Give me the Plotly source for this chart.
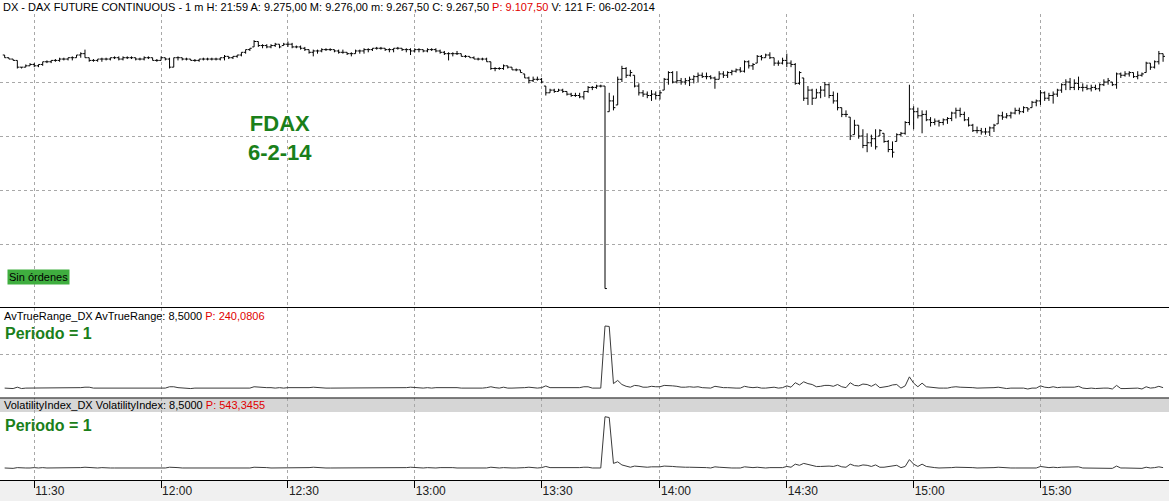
import plotly.graph_objects as go

# ---------------- data (1-minute FDAX bars, 11:23 .. 15:55) ----------------
bar_open = [
 9270, 9269, 9268.5, 9268, 9265.5, 9265.5, 9266, 9266.5, 9266, 9266.5,
 9267.5, 9267.5, 9268, 9268, 9268.5, 9268.5, 9269, 9269, 9270, 9270.5,
 9269, 9268, 9268, 9268.5, 9268.5, 9268.5, 9269, 9269, 9268.5, 9269,
 9269, 9269, 9268.5, 9268.5, 9269, 9269, 9268, 9268, 9269, 9268.5,
 9265.5, 9269, 9269, 9268.5, 9268.5, 9268, 9268, 9268.5, 9268.5, 9268.5,
 9268.5, 9268.5, 9269, 9269.5, 9269, 9269.5, 9270, 9271, 9272, 9273,
 9275, 9273.5, 9273.5, 9273, 9273.5, 9274, 9273.5, 9274, 9274, 9273,
 9273, 9272.5, 9272, 9271, 9271.5, 9271.5, 9272, 9272, 9272, 9271.5,
 9271, 9271, 9270.5, 9270.5, 9271.5, 9271.5, 9272, 9272, 9272.5, 9272.5,
 9272.5, 9272, 9272, 9272.5, 9272.5, 9272, 9272, 9271.5, 9272, 9272,
 9271.5, 9272, 9272, 9271.5, 9271, 9270.5, 9270.5, 9270.5, 9270.5, 9269.5,
 9269.5, 9269, 9268.5, 9268.5, 9268.5, 9267.5, 9265, 9265, 9265, 9266,
 9265.5, 9264.5, 9264.5, 9263, 9261.5, 9260.5, 9261, 9261, 9258.5, 9256,
 9257, 9256.5, 9257, 9256.5, 9255.5, 9255, 9255, 9254.5, 9256.5, 9258,
 9258, 9258.5, 9258.5, 9249, 9253, 9251.5, 9261, 9265, 9262.5, 9262.5,
 9258.5, 9256, 9255.5, 9255, 9255.5, 9255, 9257, 9261, 9263.5, 9260,
 9260.5, 9260, 9260.5, 9261, 9262, 9262.5, 9262, 9262, 9261.5, 9261,
 9263, 9262.5, 9263.5, 9264, 9264.5, 9264, 9267.5, 9266, 9267, 9269.5,
 9269, 9270, 9269, 9267, 9267, 9268, 9267, 9266.5, 9259.5, 9261.5,
 9254, 9257, 9254, 9256, 9257, 9259, 9255, 9253, 9250.5, 9248,
 9247, 9240.5, 9244, 9240, 9236.5, 9237.5, 9239, 9240, 9241, 9238,
 9235, 9238, 9240.5, 9241, 9245, 9250, 9249, 9247.5, 9248, 9246,
 9245, 9245.5, 9245, 9246, 9246.5, 9248.5, 9249.5, 9248, 9246, 9244,
 9242, 9242, 9241.5, 9241.5, 9243, 9244.5, 9247.5, 9247, 9247.5, 9248.5,
 9249.5, 9249, 9250.5, 9250.5, 9252.5, 9253, 9256, 9254, 9255, 9255.5,
 9257, 9259, 9260, 9258, 9259.5, 9258, 9258, 9257.5, 9258, 9257.5,
 9259, 9260, 9260, 9259, 9263, 9262.5, 9263, 9263.5, 9262, 9262.5,
 9263.5, 9267, 9265.5, 9267.5, 9270.5]

bar_high = [
 9270, 9269, 9268.5, 9268, 9265.5, 9266.5, 9267, 9267, 9266.5, 9267.5,
 9268, 9268, 9268.5, 9269, 9269, 9269, 9269.5, 9270, 9271, 9272,
 9269, 9268.5, 9268.5, 9269, 9269, 9269, 9269.5, 9269.5, 9269.5, 9269.5,
 9269.5, 9269, 9269, 9269.5, 9269.5, 9269, 9268.5, 9269.5, 9269, 9269,
 9269, 9269.5, 9269, 9269, 9268.5, 9268.5, 9268.5, 9269, 9269, 9269,
 9269, 9269, 9270, 9269.5, 9269.5, 9270, 9271, 9272, 9272.5, 9275.5,
 9275, 9274, 9274, 9274, 9274.5, 9274, 9274.5, 9275, 9274.5, 9273.5,
 9273.5, 9273, 9272, 9272, 9272, 9272.5, 9272.5, 9272.5, 9272, 9272,
 9272, 9271, 9271, 9272, 9272, 9272.5, 9272.5, 9272.5, 9273, 9273,
 9272.5, 9272.5, 9272.5, 9273, 9272.5, 9272.5, 9272.5, 9272.5, 9272.5, 9272,
 9272.5, 9272.5, 9272.5, 9272, 9271.5, 9271, 9271, 9271.5, 9270.5, 9270,
 9269.5, 9269.5, 9269, 9269, 9269, 9267.5, 9265.5, 9265.5, 9266.5, 9266,
 9265.5, 9265, 9264.5, 9263, 9262, 9262, 9262, 9261.5, 9258.5, 9257.5,
 9257.5, 9257.5, 9257.5, 9256.5, 9256, 9256, 9256, 9256.5, 9258.5, 9258.5,
 9259, 9259, 9258.5, 9256, 9255, 9262, 9266, 9265.5, 9264.5, 9262.5,
 9259.5, 9257, 9256.5, 9257, 9256.5, 9257, 9261.5, 9264, 9264, 9264,
 9261.5, 9261.5, 9262, 9262.5, 9263.5, 9263.5, 9263.5, 9262.5, 9262, 9264,
 9264, 9264, 9264.5, 9265, 9265.5, 9268, 9268, 9267, 9270, 9270,
 9270.5, 9271, 9269, 9268, 9269, 9270.5, 9268, 9267, 9264, 9261.5,
 9258.5, 9257.5, 9257.5, 9258.5, 9260, 9259.5, 9256.5, 9256, 9250.5, 9249.5,
 9247, 9246, 9244, 9242.5, 9241, 9240.5, 9242.5, 9242.5, 9241, 9238.5,
 9238, 9241, 9241.5, 9245.5, 9259, 9251, 9250.5, 9249.5, 9249.5, 9247,
 9246.5, 9246, 9246.5, 9247, 9249, 9250.5, 9250.5, 9249, 9247, 9244.5,
 9243.5, 9243, 9243, 9243.5, 9244.5, 9248, 9249, 9248.5, 9249, 9250.5,
 9250.5, 9251, 9250.5, 9253, 9253.5, 9257, 9256.5, 9256, 9256.5, 9257.5,
 9259.5, 9261, 9261.5, 9261, 9262, 9259.5, 9259, 9259, 9259, 9259.5,
 9261, 9261.5, 9260, 9263.5, 9263.5, 9264, 9264, 9263.5, 9264, 9263.5,
 9267.5, 9267, 9268, 9271.5, 9270.5]

bar_low = [
 9269, 9268.5, 9268, 9265, 9265, 9265.5, 9266, 9265.5, 9265.5, 9266,
 9267, 9267, 9267.5, 9267.5, 9268, 9268, 9268, 9269, 9269, 9269,
 9267.5, 9267.5, 9267.5, 9267.5, 9268, 9268, 9268.5, 9268, 9268, 9268.5,
 9268.5, 9268, 9268, 9268, 9268.5, 9268, 9267.5, 9268, 9268, 9265,
 9265.5, 9268, 9268, 9268, 9268, 9267.5, 9267.5, 9268, 9268, 9268,
 9268, 9268, 9268, 9268.5, 9268.5, 9269, 9269.5, 9270.5, 9271.5, 9273,
 9273, 9272.5, 9272.5, 9272.5, 9273, 9272.5, 9273.5, 9273, 9272.5, 9272.5,
 9272, 9271.5, 9270.5, 9269.5, 9270.5, 9271, 9271.5, 9271.5, 9271, 9270.5,
 9270.5, 9270, 9269.5, 9270.5, 9270.5, 9270.5, 9271, 9271.5, 9272, 9272,
 9271.5, 9271, 9271, 9272, 9271.5, 9271, 9270, 9271, 9271, 9271,
 9271, 9271.5, 9271, 9270.5, 9270, 9268, 9269.5, 9270, 9269.5, 9269,
 9269, 9268.5, 9268, 9268, 9267.5, 9264.5, 9264, 9264.5, 9264.5, 9265,
 9264.5, 9264, 9263.5, 9261.5, 9259.5, 9260, 9260.5, 9259.5, 9255, 9256,
 9256, 9256.5, 9256, 9255, 9254.5, 9254.5, 9254, 9253.5, 9256, 9257,
 9257.5, 9258, 9183.5, 9249, 9249.5, 9251.5, 9260, 9261.5, 9262, 9258,
 9255, 9254.5, 9254, 9253, 9253.5, 9253.5, 9257, 9259, 9259.5, 9259.5,
 9259, 9259, 9258.5, 9259.5, 9260, 9261.5, 9261, 9261, 9257.5, 9261,
 9261.5, 9261.5, 9262.5, 9263.5, 9263.5, 9263.5, 9265, 9264.5, 9267, 9268,
 9269, 9268.5, 9266, 9266, 9266.5, 9265.5, 9265.5, 9259, 9259, 9253,
 9251.5, 9251.5, 9254, 9254, 9254.5, 9254, 9252, 9249.5, 9247, 9247,
 9238.5, 9240.5, 9239, 9235.5, 9234, 9236, 9235, 9240, 9237.5, 9234,
 9232, 9238, 9240, 9240.5, 9244, 9242.5, 9246.5, 9241, 9245.5, 9243.5,
 9244, 9243.5, 9244, 9244.5, 9245.5, 9246.5, 9247, 9245.5, 9243.5, 9241.5,
 9241, 9240.5, 9240.5, 9240, 9241.5, 9244.5, 9246, 9246.5, 9246.5, 9248,
 9248, 9248.5, 9249, 9250.5, 9251, 9251.5, 9253, 9253, 9252, 9254.5,
 9256, 9257, 9257, 9257, 9257, 9256.5, 9257, 9256.5, 9257, 9256.5,
 9258.5, 9259, 9258.5, 9257.5, 9261.5, 9262, 9262, 9261.5, 9261, 9262,
 9263.5, 9264.5, 9265, 9266.5, 9267.5]

bar_close = [
 9269, 9268.5, 9268, 9265.5, 9265.5, 9266, 9266.5, 9266, 9266.5, 9267.5,
 9267.5, 9268, 9268, 9268.5, 9268.5, 9269, 9269, 9270, 9270.5, 9269,
 9268, 9268, 9268.5, 9268.5, 9268.5, 9269, 9269, 9268.5, 9269, 9269,
 9269, 9268.5, 9268.5, 9269, 9269, 9268, 9268, 9269, 9268.5, 9265.5,
 9269, 9269, 9268.5, 9268.5, 9268, 9268, 9268.5, 9268.5, 9268.5, 9268.5,
 9268.5, 9269, 9269.5, 9269, 9269.5, 9270, 9271, 9272, 9272.5, 9275,
 9273.5, 9273.5, 9273, 9273.5, 9274, 9273, 9274, 9274, 9273, 9273,
 9272.5, 9272, 9271, 9271.5, 9271.5, 9272, 9272, 9272, 9271.5, 9271,
 9271, 9270.5, 9270.5, 9271.5, 9271.5, 9272, 9272, 9272.5, 9272.5, 9272.5,
 9272, 9272, 9272.5, 9272.5, 9272, 9272, 9271.5, 9272, 9272, 9271.5,
 9272, 9272, 9271.5, 9271, 9270.5, 9270.5, 9270.5, 9270.5, 9269.5, 9269.5,
 9269, 9268.5, 9268.5, 9268.5, 9267.5, 9265, 9265, 9265, 9266, 9265.5,
 9264.5, 9264.5, 9263.5, 9261.5, 9260.5, 9261, 9261, 9260, 9256, 9257,
 9256.5, 9257, 9256.5, 9255.5, 9255, 9255, 9254.5, 9256.5, 9258, 9258,
 9258.5, 9258.5, 9183.5, 9253, 9250.5, 9261, 9265, 9262.5, 9263.5, 9258.5,
 9256, 9255.5, 9255, 9255.5, 9255, 9256, 9261, 9263.5, 9260, 9260.5,
 9260, 9260.5, 9261, 9262, 9262.5, 9262, 9262, 9261.5, 9261, 9263,
 9262.5, 9263.5, 9264, 9264.5, 9264, 9267.5, 9266, 9266.5, 9269.5, 9269,
 9270, 9269, 9267, 9267, 9268, 9267, 9266.5, 9259.5, 9263.5, 9254,
 9257, 9254, 9256, 9257, 9259, 9255, 9253, 9250.5, 9248, 9248,
 9240, 9244, 9240, 9236.5, 9237.5, 9239, 9236, 9242, 9238, 9235,
 9234, 9240.5, 9241, 9245, 9250, 9249, 9247.5, 9248, 9246, 9245,
 9245.5, 9245, 9246, 9246.5, 9248.5, 9249.5, 9248, 9246, 9244, 9242,
 9242, 9241.5, 9241.5, 9243, 9244, 9247.5, 9247, 9247.5, 9248.5, 9249.5,
 9249, 9250.5, 9250, 9252.5, 9253, 9256, 9254, 9255, 9255.5, 9257,
 9259, 9260, 9258, 9259.5, 9258, 9258, 9257.5, 9258, 9257.5, 9259,
 9260, 9260.5, 9259, 9263, 9262.5, 9263, 9263.5, 9262, 9262.5, 9263,
 9267, 9265.5, 9267.5, 9270.5, 9269.5]

atr_values = [
 3, 2.5, 2.5, 4, 2.5, 3, 3, 3.5, 3, 3.5,
 3, 3, 3, 3.5, 3, 3, 3.5, 3, 3.5, 4,
 4, 3, 3, 3.5, 3, 3, 3, 3.5, 3.5, 3,
 3, 3, 3, 3.5, 3, 3, 3, 3.5, 3, 4.5,
 4.5, 3.5, 3, 3, 2.5, 3, 3, 3, 3, 3,
 3, 3, 3.5, 3, 3, 3, 3.5, 3.5, 3, 4.5,
 4, 3.5, 3.5, 3.5, 3, 3.5, 3, 3.5, 3.5, 3,
 3.5, 3.5, 3.5, 4, 3.5, 3.5, 3, 3, 3, 3.5,
 3.5, 3, 3.5, 3.5, 3.5, 3.5, 3.5, 3, 3, 3,
 3, 3.5, 3.5, 3, 3, 3.5, 4, 3.5, 3.5, 3,
 3.5, 3, 3.5, 3.5, 3.5, 4, 3.5, 3.5, 3, 3,
 2.5, 3, 3, 3, 3.5, 4.5, 3.5, 3, 4, 3,
 3, 3, 3, 3.5, 4, 3.5, 3, 3.5, 5.5, 3.5,
 3.5, 3, 3.5, 3.5, 3.5, 3.5, 3.5, 4.5, 4.5, 3,
 3, 3, 72, 71.5, 8, 11.5, 7, 5, 4, 6,
 5.5, 4, 4, 5, 4.5, 4.5, 6, 6, 5.5, 5,
 4, 4, 4.5, 4, 4.5, 3.5, 3.5, 3, 5, 4,
 3.5, 3.5, 3, 3, 3, 5, 4, 3.5, 4, 3,
 3, 3.5, 4, 3, 3.5, 5.5, 4, 9, 6.5, 10,
 8, 7, 4.5, 5, 6, 6, 5, 7, 4.5, 3.5,
 9, 6, 5.5, 7.5, 7, 5, 7.5, 3.5, 4, 5,
 6.5, 7, 3, 5.5, 15.5, 8.5, 4.5, 8.5, 4.5, 4,
 3, 3, 3, 3, 4, 4.5, 4, 4, 4, 3.5,
 3, 3, 3, 3.5, 3.5, 4, 3.5, 2.5, 3, 3,
 2.5, 3, 2, 3, 3, 5.5, 4, 3.5, 4.5, 3.5,
 4, 4, 4.5, 4, 5, 3, 2.5, 3, 2.5, 3,
 3, 3, 2, 6, 2.5, 2.5, 2.5, 2.5, 3, 2,
 4.5, 3, 3.5, 5, 3.5]

vi_values = [
 3, 3, 2.5, 3.5, 3, 3, 3, 3.5, 3, 3.5,
 3, 3, 3, 3, 3, 3, 3.5, 3, 3.5, 4,
 3.5, 3, 3, 3.5, 3, 3, 3, 3, 3.5, 3,
 3, 3, 3, 3, 3, 3, 3, 3.5, 3, 4,
 4, 3.5, 3, 3, 3, 3, 3, 3, 3, 3,
 3, 3, 3.5, 3, 3, 3, 3.5, 3.5, 3, 4,
 4, 3.5, 3.5, 3, 3, 3.5, 3, 3.5, 3.5, 3,
 3.5, 3.5, 3.5, 4, 3.5, 3, 3, 3, 3, 3.5,
 3.5, 3, 3.5, 3.5, 3, 3.5, 3.5, 3, 3, 3,
 3, 3, 3.5, 3, 3, 3.5, 4, 3.5, 3, 3,
 3.5, 3, 3, 3.5, 3.5, 4, 3.5, 3, 3, 3,
 3, 3, 3, 3, 3, 4, 3.5, 3, 3.5, 3,
 3, 3, 3, 3.5, 4, 3.5, 3, 3.5, 5, 3.5,
 3.5, 3, 3, 3.5, 3.5, 3.5, 3.5, 4, 4, 3,
 3, 3, 70, 69, 9, 11, 7, 5, 4, 5.5,
 5, 4, 4, 4.5, 4.5, 4.5, 5.5, 5.5, 5, 4.5,
 4, 4, 4, 4, 4, 3.5, 3.5, 3, 4.5, 4,
 3.5, 3.5, 3, 3, 3, 4.5, 4, 3.5, 4, 3,
 3, 3.5, 3.5, 3, 3.5, 5, 4, 8, 6.5, 9,
 8, 6.5, 5, 5, 5.5, 5.5, 5, 6.5, 4.5, 4,
 8, 6, 5.5, 7, 6.5, 5, 7, 4, 4, 5,
 6, 6.5, 3.5, 5, 14, 8, 5, 8, 5, 4,
 3.5, 3, 3, 3, 3.5, 4, 4, 4, 4, 3.5,
 3, 3, 3, 3.5, 3.5, 4, 3.5, 3, 3, 3,
 3, 3, 2.5, 3, 3, 5, 4, 3.5, 4, 3.5,
 4, 4, 4, 4, 4.5, 3, 3, 3, 3, 3,
 3, 3, 2.5, 5.5, 3, 3, 3, 3, 3, 2.5,
 4, 3, 3.5, 4.5, 3.5]

tick_index = [7, 37, 67, 97, 127, 155, 185, 215, 245]
tick_labels = ["11:30", "12:00", "12:30", "13:00", "13:30", "14:00", "14:30", "15:00", "15:30"]
price_grid = [9200, 9220, 9240, 9260]
atr_grid = [40]

# ---------------- figure ----------------
W, H = 1169, 501
PLOT_H = 480.0  # plot area height (bottom margin holds the time axis)


def py(pix):
    """pixel row (from top) -> paper y"""
    return (PLOT_H - pix) / PLOT_H


n = min(len(bar_open), len(bar_high), len(bar_low), len(bar_close))
xs = list(range(n))

GREEN = "#1a7f1a"
GRID = "#a8a8a8"
FONT = "Liberation Sans, Arial, sans-serif"

fig = go.Figure()
fig.add_trace(go.Ohlc(
    x=xs, open=bar_open[:n], high=bar_high[:n], low=bar_low[:n], close=bar_close[:n],
    increasing=dict(line=dict(color="black", width=1)),
    decreasing=dict(line=dict(color="black", width=1)),
    tickwidth=0.45, xaxis="x", yaxis="y", hoverinfo="skip"))
fig.add_trace(go.Scatter(
    x=list(range(len(atr_values))), y=atr_values, mode="lines",
    line=dict(color="#3a3a3a", width=1), xaxis="x2", yaxis="y2", hoverinfo="skip"))
fig.add_trace(go.Scatter(
    x=list(range(len(vi_values))), y=vi_values, mode="lines",
    line=dict(color="#3a3a3a", width=1), xaxis="x3", yaxis="y3", hoverinfo="skip"))

xr = [-1.1, 275.4]
common_x = dict(range=xr, tickmode="array", tickvals=tick_index, showgrid=True,
                gridcolor=GRID, griddash="3px,3px", gridwidth=1, zeroline=False,
                fixedrange=True)

fig.update_layout(
    width=W, height=H,
    margin=dict(l=0, r=0, t=0, b=21),
    paper_bgcolor="white", plot_bgcolor="white",
    showlegend=False,
    font=dict(family=FONT, size=11, color="black"),
    xaxis=dict(**common_x, anchor="y", showticklabels=False, ticks="",
               rangeslider=dict(visible=False)),
    xaxis2=dict(**common_x, anchor="y2", matches="x", showticklabels=False, ticks=""),
    xaxis3=dict(**common_x, anchor="y3", matches="x", ticktext=tick_labels,
                showticklabels=True, ticks="outside", ticklen=7, tickcolor="black",
                tickwidth=1, showline=True, linecolor="black", linewidth=1,
                ticklabelposition="outside right", automargin=False,
                tickfont=dict(family=FONT, size=12, color="#202020")),
    yaxis=dict(domain=[py(307), py(14)], range=[9176.67, 9285.19], tickmode="array",
               tickvals=price_grid, showticklabels=False, showgrid=True, gridcolor=GRID,
               griddash="3px,3px", zeroline=False, fixedrange=True),
    yaxis2=dict(domain=[py(398), py(308)], range=[-8, 92], tickmode="array",
                tickvals=atr_grid, showticklabels=False, showgrid=True, gridcolor=GRID,
                griddash="3px,3px", zeroline=False, fixedrange=True),
    yaxis3=dict(domain=[0, py(398)], range=[-12.7, 94.5], showticklabels=False,
                showgrid=False, zeroline=False, fixedrange=True),
)

shapes = [
    # grey time-axis strip
    dict(type="rect", xref="paper", yref="paper", x0=0, x1=1, y0=-21 / PLOT_H, y1=0,
         fillcolor="#f0f0f0", line=dict(width=0), layer="below"),
    # grey header band of the volatility panel
    dict(type="rect", xref="paper", yref="paper", x0=0, x1=1, y0=py(412), y1=py(398.5),
         fillcolor="#d6d6d6", line=dict(width=0), layer="below"),
    # panel separators
    dict(type="line", xref="paper", yref="paper", x0=0, x1=1, y0=py(307.5), y1=py(307.5),
         line=dict(color="black", width=1)),
    dict(type="line", xref="paper", yref="paper", x0=0, x1=1, y0=py(398), y1=py(398),
         line=dict(color="black", width=1)),
]
fig.update_layout(shapes=shapes)

ann = []
ann.append(dict(
    xref="paper", yref="paper", x=1 / W, y=py(7), xanchor="left", yanchor="middle",
    showarrow=False, font=dict(family=FONT, size=11, color="black"),
    text="DX - DAX FUTURE CONTINUOUS - 1 m H: 21:59 A: 9.275,00 M: 9.276,00 m: 9.267,50 "
         "C: 9.267,50 <span style='color:#e00000'>P: 9.107,50</span> V: 121 F: 06-02-2014"))
ann.append(dict(
    xref="paper", yref="paper", x=280 / W, y=py(138), xanchor="center", yanchor="middle",
    showarrow=False, align="center", font=dict(family=FONT, size=22, color=GREEN),
    text="<b>FDAX</b><br><b>6-2-14</b>"))
ann.append(dict(
    xref="paper", yref="paper", x=7 / W, y=py(277), xanchor="left", yanchor="middle",
    showarrow=False, bgcolor="#3fae3f", borderpad=1,
    font=dict(family=FONT, size=11, color="black"), text="Sin órdenes"))
ann.append(dict(
    xref="paper", yref="paper", x=2 / W, y=py(316), xanchor="left", yanchor="middle",
    showarrow=False, font=dict(family=FONT, size=11, color="black"),
    text="AvTrueRange_DX AvTrueRange: 8,5000 <span style='color:#e00000'>P: 240,0806</span>"))
ann.append(dict(
    xref="paper", yref="paper", x=3 / W, y=py(333), xanchor="left", yanchor="middle",
    showarrow=False, font=dict(family=FONT, size=16, color=GREEN), text="<b>Periodo = 1</b>"))
ann.append(dict(
    xref="paper", yref="paper", x=2 / W, y=py(405), xanchor="left", yanchor="middle",
    showarrow=False, font=dict(family=FONT, size=11, color="black"),
    text="VolatilityIndex_DX VolatilityIndex: 8,5000 <span style='color:#e00000'>P: 543,3455</span>"))
ann.append(dict(
    xref="paper", yref="paper", x=3 / W, y=py(425), xanchor="left", yanchor="middle",
    showarrow=False, font=dict(family=FONT, size=16, color=GREEN), text="<b>Periodo = 1</b>"))
fig.update_layout(annotations=ann)

fig.write_html("out.html", config={"displayModeBar": False, "staticPlot": True},
               post_script="document.body.style.margin='0';document.body.style.overflow='hidden';")
